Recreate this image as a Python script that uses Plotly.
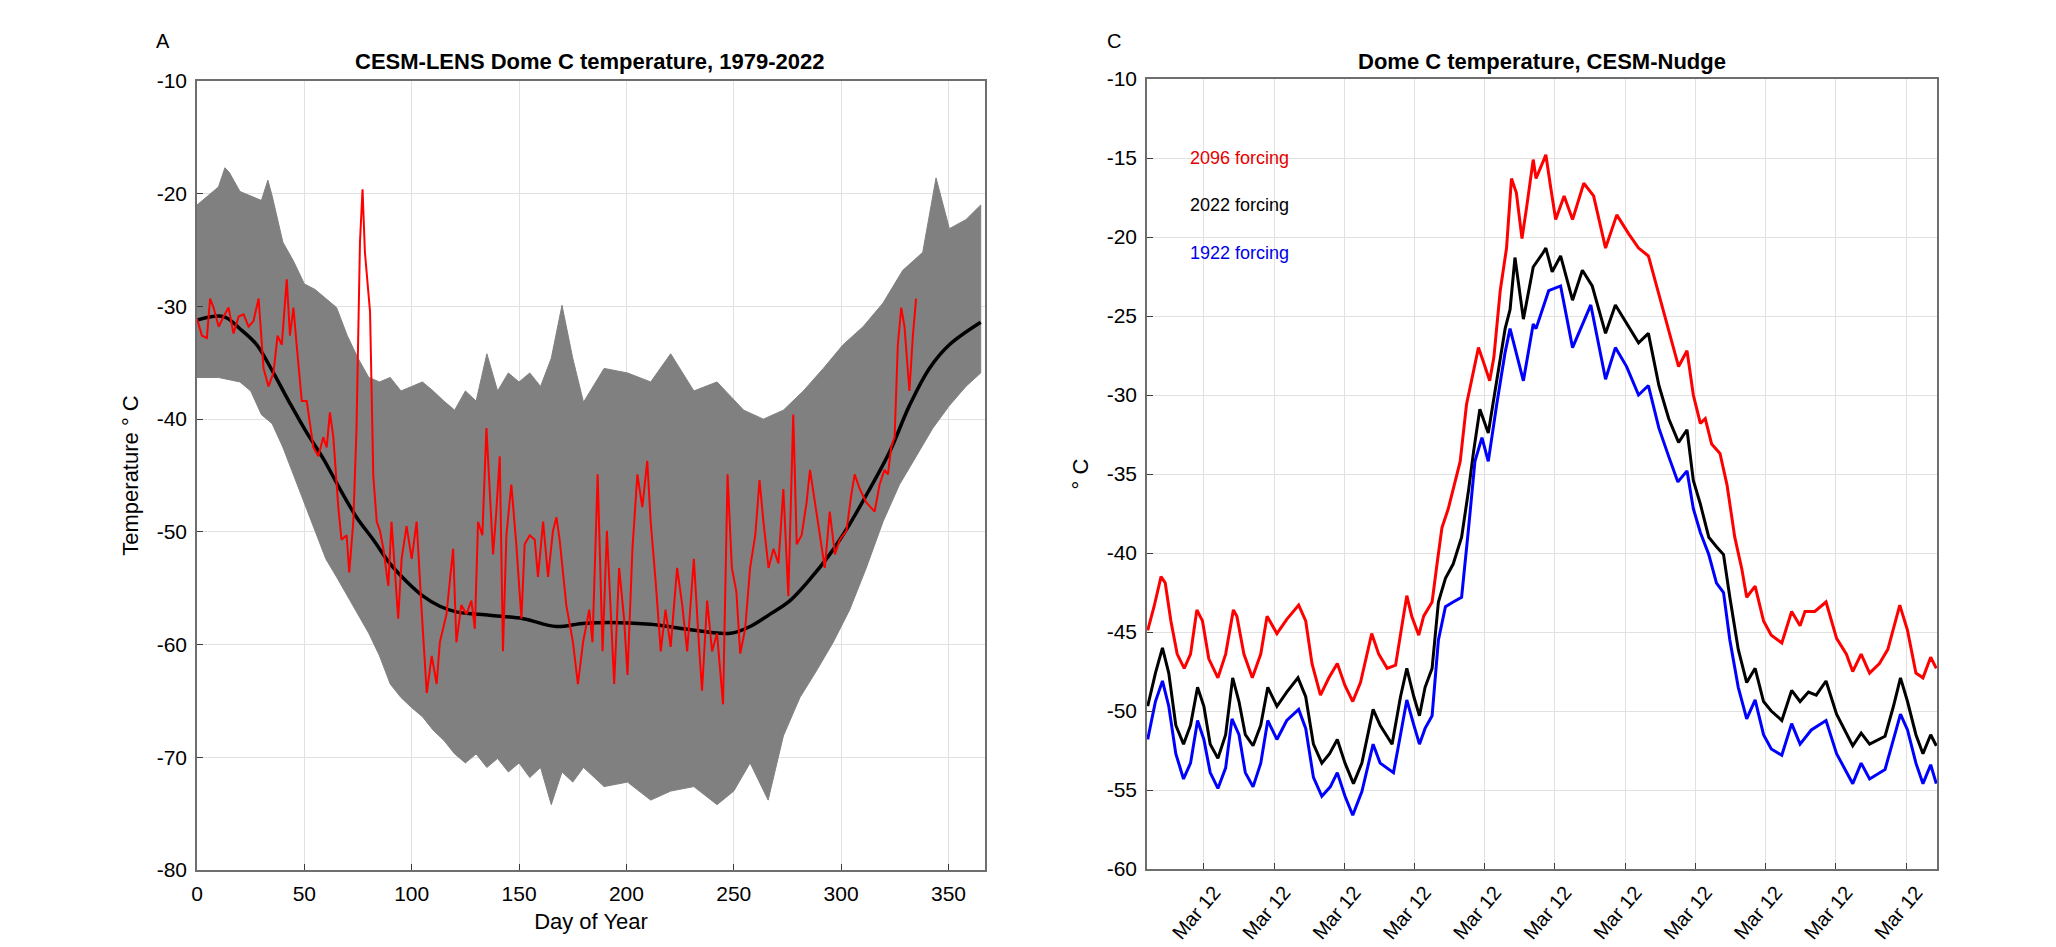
import plotly.graph_objects as go

# ---------------- Panel A data (CESM-LENS, day of year) ----------------
mean_day = [0, 12.4, 20.1, 27.8, 35.6, 43.3, 51.1, 58.8, 66.6, 74.3, 82.1, 89.8, 97.6, 105.3,
            113.1, 120.8, 136.3, 151.9, 167.3, 181, 211.3, 226.7, 248.4, 257.6, 266.9, 276.2,
            285.5, 294.7, 304, 313.3, 322.6, 331.8, 341.1, 350.4, 365]
mean_temp = [-31.2, -30.9, -32.0, -33.4, -35.9, -38.6, -41.2, -43.5, -46.2, -48.7, -50.7, -52.8,
             -54.4, -55.7, -56.6, -57.1, -57.4, -57.7, -58.4, -58.1, -58.2, -58.6, -59.0, -58.4,
             -57.3, -56.1, -54.2, -52.0, -49.3, -46.2, -42.9, -38.8, -35.5, -33.4, -31.4]

upper_day = [0, 5, 10, 13, 15, 20, 25, 30, 33, 35, 40, 45, 50, 55, 60, 65, 70, 75, 80, 85, 90, 95,
             100, 105, 110, 115, 120, 125, 130, 135, 140, 145, 150, 155, 160, 165, 170, 175, 180,
             189.6, 200.5, 211.3, 220.6, 231.4, 242.2, 254.6, 263.8, 273.1, 282.4, 291.7, 300.9,
             310.2, 319.5, 328.7, 338, 344.2, 350.4, 358.1, 365]
upper_temp = [-21.0, -20.2, -19.4, -17.7, -18.1, -19.8, -20.2, -20.6, -18.8, -20.2, -24.3, -26.0,
              -28.0, -28.5, -29.3, -30.1, -32.6, -34.6, -36.3, -36.7, -36.3, -37.5, -37.1, -36.7,
              -37.5, -38.4, -39.2, -37.5, -38.4, -34.2, -37.5, -35.9, -36.7, -35.9, -37.1, -34.6,
              -29.9, -34.6, -38.5, -35.5, -35.9, -36.7, -34.2, -37.5, -36.7, -39.2, -40.0, -39.2,
              -37.5, -35.5, -33.4, -31.8, -29.7, -26.8, -25.2, -18.6, -23.1, -22.3, -21.0]

lower_day = [0, 10, 20, 25, 30, 35, 40, 45, 50, 55, 60, 65, 70, 75, 80, 85, 90, 95, 100, 105, 110,
             115, 120, 125, 130, 135, 140, 145, 150, 155, 160, 165, 170, 175, 180, 189.6, 200.5,
             211.3, 220.6, 231.4, 242.2, 250, 257.6, 266, 273.1, 280.8, 288.6, 296.3, 304, 311.7,
             319.5, 327.2, 334.9, 342.7, 350.4, 358.1, 365]
lower_temp = [-36.3, -36.3, -36.7, -37.5, -39.6, -40.4, -42.5, -45.0, -47.4, -49.9, -52.4, -54.0,
              -55.7, -57.3, -59.0, -61.0, -63.5, -64.7, -65.6, -66.4, -67.6, -68.5, -69.7, -70.5,
              -69.7, -70.9, -70.1, -71.3, -70.5, -71.8, -70.9, -74.2, -71.3, -72.2, -70.9, -72.6,
              -72.2, -73.8, -73.0, -72.6, -74.2, -73.0, -70.5, -73.8, -68.1, -64.7, -62.3, -59.8,
              -56.9, -53.2, -49.1, -45.8, -43.3, -40.8, -38.8, -37.1, -35.9]

obs_day = [0, 2.3, 4.6, 6.1, 7.7, 10.1, 12.4, 14.7, 17, 19.4, 21.7, 24, 26.3, 28.7, 31, 33.3, 35.6,
           37.5, 39.5, 41.8, 43.3, 44.9, 46.4, 48.8, 51.1, 54.2, 56.5, 58.8, 60.4, 61.9, 63.5, 65.8,
           67.3, 69.7, 70.9, 72.8, 74.3, 75.9, 77.1, 78.2, 80.6, 82.1, 83.7, 85.2, 86.8, 89.1, 90.6,
           92.2, 93.7, 95.3, 97.6, 100, 102.3, 104.6, 107, 109.3, 111.6, 113.1, 116.2, 119.3, 120.8,
           123.1, 125.5, 127.8, 129.4, 130.9, 132.9, 134.8, 136.3, 137.9, 139.4, 141, 142.5, 144.1,
           146.4, 148.7, 151.1, 152.6, 155, 157.3, 158.8, 161.2, 163.5, 165.8, 167.4, 168.9, 172,
           175.1, 177.4, 179.8, 182.7, 184.2, 186.6, 188.9, 190.9, 192.7, 194.3, 196.6, 198.9,
           200.5, 202.8, 205.1, 207.4, 209.7, 211.3, 213.6, 216, 218.2, 220.6, 223.6, 226, 228.3,
           231.4, 233.7, 235.2, 237.6, 239.9, 242.2, 245, 247.1, 249.1, 251.2, 253, 255.3, 257.6,
           260, 262, 263.8, 266.2, 268.5, 270.8, 273.1, 275.4, 277.7, 279.3, 281.6, 283.9, 285.5,
           287.8, 290.1, 292.4, 294.7, 297.1, 299.4, 302.5, 304.8, 306.3, 308.7, 311.7, 315.6,
           317.9, 320.2, 321.8, 323.3, 324.9, 326.4, 328, 329.5, 331.8, 333.4, 334.9]
obs_temp = [-31.1, -32.6, -32.8, -29.3, -30.1, -31.8, -30.9, -30.1, -32.4, -30.9, -30.7, -31.8,
            -31.3, -29.3, -35.5, -37.1, -35.9, -32.6, -33.4, -27.6, -32.6, -30.1, -33.4, -38.4,
            -38.4, -42.5, -43.3, -41.6, -42.5, -39.4, -41.6, -47.8, -50.7, -50.3, -53.6, -49.1,
            -40.8, -24.3, -19.6, -25.2, -30.5, -45.0, -49.1, -49.9, -51.5, -54.8, -49.1, -53.2,
            -57.7, -52.4, -49.5, -52.4, -49.1, -56.9, -64.3, -61.0, -63.5, -59.8, -57.3, -51.5,
            -59.8, -56.5, -57.3, -56.1, -58.6, -49.1, -50.3, -40.8, -45.8, -52.0, -48.2, -43.3,
            -60.6, -50.3, -45.8, -51.1, -57.7, -51.1, -50.3, -50.7, -54.0, -49.1, -54.0, -49.9,
            -48.7, -50.7, -56.5, -59.8, -63.5, -59.8, -56.9, -59.8, -44.9, -60.6, -49.9, -57.3,
            -63.5, -53.2, -57.7, -62.7, -51.5, -44.9, -47.8, -43.7, -49.1, -54.4, -60.6, -56.9,
            -60.2, -53.2, -56.5, -60.6, -52.4, -59.8, -64.1, -56.1, -60.6, -59.0, -65.3, -44.9,
            -53.2, -55.3, -60.8, -58.6, -53.2, -50.3, -45.4, -49.1, -53.2, -51.5, -52.8, -46.2,
            -55.7, -39.6, -51.1, -50.3, -47.4, -44.5, -47.4, -50.7, -53.2, -48.2, -52.0, -50.7,
            -49.9, -46.6, -44.9, -46.2, -47.4, -48.2, -45.8, -44.5, -44.9, -42.5, -41.6, -33.4,
            -30.1, -31.8, -37.5, -32.6, -29.3]

# ---------------- Panel C data (CESM-Nudge) ----------------
# time axis in tenths of the "Mar 12" tick spacing
date_ticks = [0, 10, 20, 30, 40, 50, 60, 70, 80, 90, 100]
date_labels = ["Mar 12"] * 11

t2096 = [-8.0, -7.1, -6.1, -5.5, -4.7, -3.8, -2.8, -1.9, -1.0, -0.2, 0.7, 2.0, 3.1, 4.2, 4.7, 5.7,
         6.9, 8.1, 9.0, 9.7, 10.4, 11.8, 13.5, 14.5, 15.4, 16.6, 17.8, 19.0, 20.1, 21.2, 22.3, 23.9,
         24.9, 26.1, 27.3, 28.2, 28.9, 29.6, 30.6, 31.3, 32.5, 33.2, 33.9, 34.8, 35.8, 36.5, 37.4,
         38.4, 39.1, 39.8, 40.7, 41.3, 42.2, 43.1, 43.8, 44.5, 45.3, 46.0, 46.9, 47.3, 48.7, 49.4,
         50.1, 51.3, 52.5, 54.1, 55.5, 57.2, 58.8, 60.5, 61.9, 63.3, 65.0, 66.2, 67.6, 68.8, 69.7,
         70.7, 71.4, 72.3, 73.5, 74.5, 75.6, 76.6, 77.3, 78.5, 79.7, 80.8, 82.3, 83.7, 84.9, 85.6,
         87.0, 88.6, 90.1, 91.5, 92.4, 93.6, 94.8, 96.2, 97.4, 99.1, 100.2, 101.4, 102.4, 103.5, 104.3]
v2096 = [-44.9, -43.4, -41.5, -41.9, -44.3, -46.4, -47.3, -46.4, -43.6, -44.3, -46.7, -47.9, -46.4,
         -43.6, -44.0, -46.4, -47.9, -46.4, -44.0, -44.6, -45.1, -44.2, -43.3, -44.3, -47.0, -49.0,
         -47.9, -47.0, -48.4, -49.4, -48.2, -45.1, -46.4, -47.3, -47.1, -44.6, -42.7, -44.0, -45.2,
         -44.0, -43.1, -40.7, -38.4, -37.2, -35.5, -34.2, -30.6, -28.5, -27.0, -27.9, -29.1, -27.6,
         -23.4, -20.7, -16.3, -17.2, -20.1, -18.0, -15.1, -16.3, -14.8, -16.9, -18.9, -17.4, -18.9,
         -16.6, -17.4, -20.7, -18.6, -19.8, -20.7, -21.2, -24.0, -25.8, -28.2, -27.2, -30.0, -31.8,
         -31.5, -33.1, -33.7, -35.7, -39.0, -41.0, -42.8, -42.1, -44.3, -45.2, -45.7, -43.7, -44.6,
         -43.7, -43.7, -43.1, -45.4, -46.4, -47.5, -46.4, -47.6, -47.0, -46.1, -43.3, -44.9, -47.6,
         -47.9, -46.6, -47.3]

t2022 = [-8.0, -6.9, -5.9, -5.0, -4.0, -2.9, -1.9, -0.9, 0.0, 0.9, 2.0, 3.1, 4.1, 5.0, 5.9, 7.0,
         8.1, 9.1, 10.4, 11.8, 13.4, 14.5, 15.6, 16.8, 17.9, 19.0, 20.1, 21.3, 22.5, 24.1, 25.1, 26.8,
         28.0, 28.9, 29.9, 30.7, 31.5, 32.5, 33.4, 34.4, 35.5, 36.7, 37.7, 38.4, 39.3, 40.5, 41.7,
         42.9, 43.6, 44.3, 45.5, 46.9, 48.3, 48.7, 49.6, 50.8, 52.5, 53.9, 55.3, 57.2, 58.6, 60.2,
         61.9, 63.3, 64.8, 66.2, 67.6, 68.8, 69.7, 70.7, 71.9, 73.0, 74.0, 74.9, 76.1, 77.3, 78.5,
         79.7, 80.8, 82.3, 83.7, 84.9, 86.1, 87.2, 88.6, 90.1, 92.4, 93.6, 94.8, 97.0, 98.2, 99.2,
         100.2, 101.4, 102.4, 103.5, 104.3]
v2022 = [-49.7, -47.6, -46.0, -47.6, -50.9, -52.1, -50.9, -48.5, -49.7, -52.1, -53.0, -51.5, -47.9,
         -49.4, -51.5, -52.2, -50.9, -48.5, -49.7, -48.8, -47.9, -49.1, -52.1, -53.3, -52.7, -51.8,
         -53.3, -54.6, -53.3, -49.9, -50.9, -52.1, -49.1, -47.3, -49.1, -50.3, -48.5, -47.3, -43.1,
         -41.6, -40.7, -39.0, -36.0, -33.6, -30.9, -32.4, -29.1, -25.8, -24.6, -21.3, -25.2, -21.9,
         -21.0, -20.7, -22.2, -21.2, -24.0, -22.1, -23.1, -26.1, -24.3, -25.5, -26.7, -26.1, -29.4,
         -31.5, -33.0, -32.2, -35.4, -36.9, -39.0, -39.6, -40.1, -42.8, -46.1, -48.2, -47.3, -49.4,
         -50.0, -50.6, -48.7, -49.4, -48.8, -49.0, -48.1, -50.2, -52.2, -51.4, -52.1, -51.6, -49.7,
         -47.9, -49.4, -51.5, -52.7, -51.5, -52.2]

t1922 = [-8.0, -6.9, -5.9, -5.0, -4.0, -2.9, -1.9, -0.9, 0.0, 0.9, 2.0, 3.1, 4.0, 5.0, 5.9, 7.0,
         8.1, 9.1, 10.4, 11.8, 13.5, 14.5, 15.6, 16.8, 18.0, 19.0, 20.1, 21.2, 22.5, 24.1, 25.1, 27.0,
         28.0, 28.9, 29.9, 30.7, 31.5, 32.5, 33.4, 34.4, 35.5, 36.7, 37.7, 38.6, 39.6, 40.5, 41.7,
         42.9, 43.6, 44.5, 45.5, 46.9, 47.3, 49.1, 50.8, 52.5, 53.9, 55.1, 57.2, 58.6, 60.2, 61.9,
         63.3, 64.8, 66.2, 67.5, 68.8, 69.7, 70.7, 71.9, 73.0, 74.0, 74.9, 76.1, 77.3, 78.5, 79.7,
         80.8, 82.3, 83.7, 84.9, 86.5, 88.6, 90.1, 92.4, 93.6, 94.8, 97.0, 98.2, 99.2, 100.2, 101.4,
         102.4, 103.5, 104.3]
v1922 = [-51.8, -49.4, -48.1, -49.7, -52.7, -54.3, -53.3, -50.6, -51.8, -53.9, -54.9, -53.6, -50.5,
         -51.5, -53.9, -54.8, -53.3, -50.6, -51.8, -50.6, -49.9, -51.1, -54.2, -55.4, -54.8, -53.9,
         -55.4, -56.6, -55.1, -52.1, -53.3, -53.9, -51.5, -49.3, -50.9, -52.1, -51.1, -50.3, -45.5,
         -43.4, -43.1, -42.8, -38.4, -34.2, -32.7, -34.2, -30.6, -27.3, -25.8, -27.3, -29.1, -25.5,
         -25.8, -23.4, -23.1, -27.0, -25.5, -24.3, -29.0, -27.0, -28.2, -30.0, -29.4, -32.1, -33.9,
         -35.5, -34.8, -37.2, -38.7, -40.1, -41.9, -42.5, -45.5, -48.5, -50.5, -49.3, -51.5, -52.4,
         -52.8, -50.8, -52.1, -51.2, -50.6, -52.7, -54.6, -53.3, -54.3, -53.7, -51.8, -50.2, -51.2,
         -53.3, -54.6, -53.4, -54.6]

left_xticks = [0, 50, 100, 150, 200, 250, 300, 350]
left_yticks = [-80, -70, -60, -50, -40, -30, -20, -10]
right_yticks = [-60, -55, -50, -45, -40, -35, -30, -25, -20, -15, -10]

FONT = "Liberation Sans, Arial, sans-serif"
GRID = "rgb(225,225,225)"
AXC = "rgb(110,110,110)"

# page body has an 8px margin: figure is 2048x939 starting at (8, 8) of the window
W, H, OFF = 2048, 939, 8
def px(X):
    return (X - OFF) / W
def py(Y):
    return 1 - (Y - OFF) / H

fig = go.Figure()

# gray ensemble envelope
fig.add_trace(go.Scatter(x=upper_day + lower_day[::-1], y=upper_temp + lower_temp[::-1],
                         fill="toself", fillcolor="rgb(128,128,128)", mode="lines",
                         line=dict(color="rgb(128,128,128)", width=1),
                         xaxis="x", yaxis="y", showlegend=False, hoverinfo="skip"))
fig.add_trace(go.Scatter(x=mean_day, y=mean_temp, mode="lines", line=dict(color="black", width=3.5, shape="spline"),
                         xaxis="x", yaxis="y", showlegend=False))
fig.add_trace(go.Scatter(x=obs_day, y=obs_temp, mode="lines", line=dict(color="rgb(255,0,0)", width=2),
                         xaxis="x", yaxis="y", showlegend=False))

# panel C bundles
for tt, vv, col in [(t2096, v2096, "rgb(255,0,0)"), (t2022, v2022, "rgb(0,0,0)"), (t1922, v1922, "rgb(0,0,255)")]:
    fig.add_trace(go.Scatter(x=tt, y=vv, mode="lines", line=dict(color=col, width=3),
                             xaxis="x2", yaxis="y2", showlegend=False))

ax_common = dict(showgrid=True, gridcolor=GRID, gridwidth=1, zeroline=False, automargin=False,
                 showline=True, linecolor=AXC, linewidth=1.5, mirror=True,
                 ticks="inside", ticklen=6, tickcolor="rgb(60,60,60)",
                 tickfont=dict(family=FONT, size=21, color="black"))

def lab(v):
    return [str(x) for x in v]

fig.update_layout(
    width=W, height=H, paper_bgcolor="white", plot_bgcolor="white",
    margin=dict(l=0, r=0, t=0, b=0, autoexpand=False),
    font=dict(family=FONT, color="black"),
    xaxis=dict(domain=[px(197), px(985)], range=[0, 367], tickvals=left_xticks, ticktext=lab(left_xticks),
               ticklabelstandoff=4,
               title=dict(text="Day of Year", font=dict(family=FONT, size=22), standoff=10),
               anchor="y", **ax_common),
    yaxis=dict(domain=[py(870), py(81)], range=[-80, -10], tickvals=left_yticks, ticktext=lab(left_yticks),
               ticklabelstandoff=4,
               title=dict(text="Temperature \u00b0 C", font=dict(family=FONT, size=22), standoff=12),
               anchor="x", **ax_common),
    xaxis2=dict(domain=[px(1147), px(1937)], range=[-8.1, 104.4], tickvals=date_ticks, ticktext=date_labels,
                tickangle=-50, ticklabelstandoff=2, ticklabelshift=10, anchor="y2", **ax_common),
    yaxis2=dict(domain=[py(869), py(79)], range=[-60, -10], tickvals=right_yticks, ticktext=lab(right_yticks),
                ticklabelstandoff=4,
                title=dict(text="\u00b0 C", font=dict(family=FONT, size=22), standoff=12),
                anchor="x2", **ax_common),
    annotations=[
        dict(text="<b>CESM-LENS Dome C temperature, 1979-2022</b>", x=px(590), y=py(62),
             xref="paper", yref="paper", xanchor="center", yanchor="middle",
             showarrow=False, font=dict(family=FONT, size=22)),
        dict(text="<b>Dome C temperature, CESM-Nudge</b>", x=px(1542), y=py(62),
             xref="paper", yref="paper", xanchor="center", yanchor="middle",
             showarrow=False, font=dict(family=FONT, size=22)),
        dict(text="A", x=px(163), y=py(41), xref="paper", yref="paper", showarrow=False,
             xanchor="center", yanchor="middle", font=dict(family=FONT, size=20)),
        dict(text="C", x=px(1114), y=py(41), xref="paper", yref="paper", showarrow=False,
             xanchor="center", yanchor="middle", font=dict(family=FONT, size=20)),
        dict(text="2096 forcing", x=-2.2, y=-15, xref="x2", yref="y2", xanchor="left", yanchor="middle",
             showarrow=False, font=dict(family=FONT, size=18, color="rgb(230,0,0)")),
        dict(text="2022 forcing", x=-2.2, y=-18, xref="x2", yref="y2", xanchor="left", yanchor="middle",
             showarrow=False, font=dict(family=FONT, size=18, color="black")),
        dict(text="1922 forcing", x=-2.2, y=-21, xref="x2", yref="y2", xanchor="left", yanchor="middle",
             showarrow=False, font=dict(family=FONT, size=18, color="rgb(0,0,230)")),
    ],
)
fig.update_xaxes(tickfont=dict(size=20), selector=dict(anchor="y2"))

fig.write_html("out.html")
